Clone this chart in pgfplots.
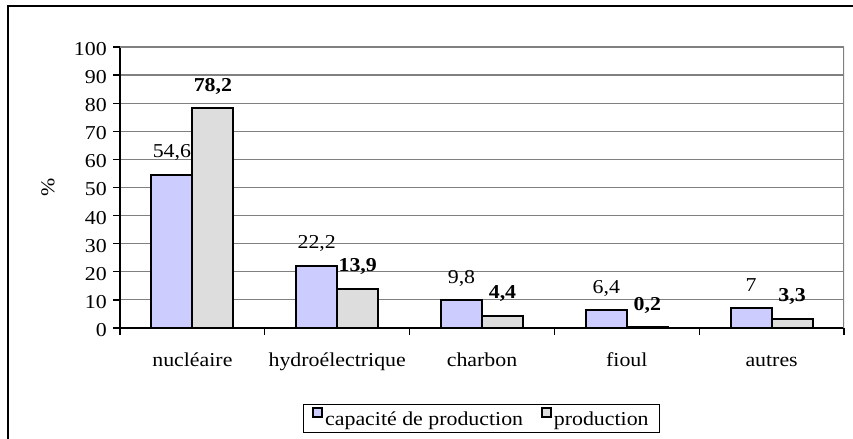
\documentclass[border=0pt]{standalone}
\usepackage{fontspec}
\setmainfont[FakeStretch=1.11]{Liberation Serif}
\usepackage{pgfplots}
\pgfplotsset{compat=1.18}
\definecolor{capblue}{HTML}{CCCCFF}
\definecolor{prodgray}{HTML}{DDDDDD}
\definecolor{gridgray}{HTML}{808080}
\begin{document}
\fontsize{19.7bp}{23bp}\selectfont
\begin{tikzpicture}[x=1bp,y=1bp]
\path[use as bounding box] (0,0) rectangle (853,439);
\draw[line width=1.3bp] (8,-20) -- (8,433) -- (880,433);
\begin{axis}[
  at={(120bp,111bp)}, anchor=south west,
  scale only axis, width=724bp, height=281bp,
  ymin=0, ymax=100, ytick={0,10,...,100},
  xmin=-0.5, xmax=4.5,
  axis lines*=left,
  axis line style={-, black, line width=1.6bp},
  ymajorgrids, grid style={gridgray, line width=1.2bp},
  tick align=outside, major tick length=7bp,
  tick style={black, line width=1.3bp},
  xtick={-0.5,0.5,1.5,2.5,3.5,4.5}, xticklabels={{},{},{},{},{},{}},
  extra x ticks={0,1,2,3,4},
  extra x tick labels={nucléaire,hydroélectrique,charbon,fioul,autres},
  extra x tick style={major tick length=0pt, xticklabel style={anchor=base, yshift=-39bp}},
  yticklabel style={inner sep=0bp, xshift=-6bp, yshift=-2bp},
  /pgf/number format/.cd, use comma, 1000 sep={}, assume math mode=true, /pgfplots/.cd,
  ylabel={\%}, ylabel style={at={(axis description cs:-0.0994,0.5)}, anchor=center},
  ybar=0pt, bar width=41bp,
  nodes near coords,
  every node near coord/.append style={inner sep=0pt, text depth=0pt, yshift=16bp, black},
  legend style={at={(axis description cs:0.4993,-0.322)}, anchor=center,
    legend columns=2, draw=black, line width=1bp, fill=white,
    inner xsep=9bp, inner ysep=2bp,
    /tikz/every even column/.append style={column sep=16bp}},
  legend image code/.code={\draw[#1, line width=1.8bp] (0bp,3bp) rectangle (9bp,12bp);},
]
\addplot[fill=capblue, draw=black, line width=2bp] coordinates {(0,54.6) (1,22.2) (2,9.8) (3,6.4) (4,7)};
\addlegendentry{capacité de production}
\addplot[fill=prodgray, draw=black, line width=2bp, every node near coord/.append style={font=\bfseries}] coordinates {(0,78.2) (1,13.9) (2,4.4) (3,0.2) (4,3.3)};
\addlegendentry{production}
\draw[gridgray, line width=1.8bp] (rel axis cs:1,0) -- (rel axis cs:1,1);
\draw[gridgray, line width=1.4bp] (rel axis cs:0,1) -- (rel axis cs:1,1);
\end{axis}
\end{tikzpicture}
\end{document}
